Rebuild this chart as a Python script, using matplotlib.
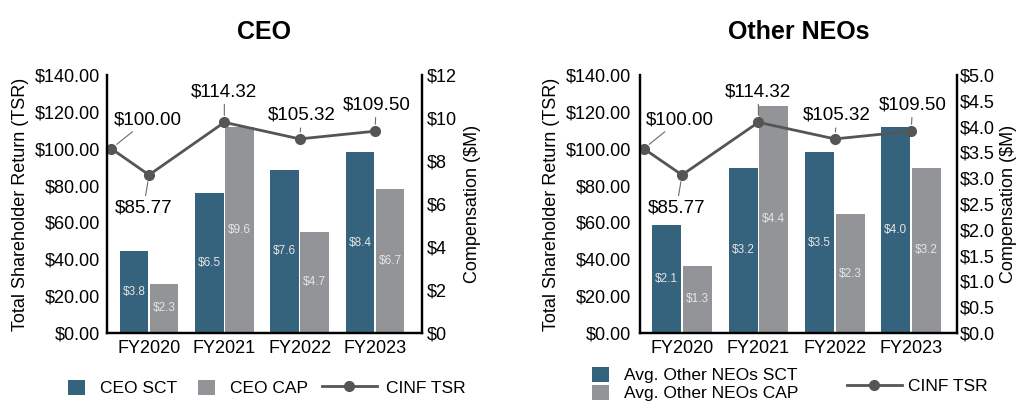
import numpy as np
import matplotlib
matplotlib.use("Agg")
from matplotlib import pyplot as plt
from matplotlib.patches import Patch
from matplotlib.lines import Line2D
from matplotlib.ticker import FuncFormatter, MultipleLocator

plt.rcParams['font.family'] = ['Liberation Sans', 'DejaVu Sans']

years = ["FY2020", "FY2021", "FY2022", "FY2023"]
# TSR starts from a $100 base before FY2020
tsr = [100.00, 85.77, 114.32, 105.32, 109.50]

ceo_sct = [3.8, 6.5, 7.6, 8.4]
ceo_cap = [2.3, 9.6, 4.7, 6.7]
neo_sct = [2.1, 3.2, 3.5, 4.0]
neo_cap = [1.3, 4.4, 2.3, 3.2]

SCT_COLOR = "#35627d"
CAP_COLOR = "#939497"
LINE_COLOR = "#555555"

W, H = 1023, 403
fig = plt.figure(figsize=(W / 100, H / 100), dpi=100)

# text offsets (points) for each TSR label, relative to its marker
label_offsets = [(26, 21), (-4, -24), (0, 22), (1.5, 17), (1, 19)]


def draw_panel(rect, xlim, title, sct, cap, comp_max, comp_step, comp_fmt,
               tsr_pad, comp_pad, comp_labelpad):
    ax = fig.add_axes(rect)
    ax2 = ax.twinx()
    x = np.arange(len(years))
    tsr_x = np.r_[-0.5, x]

    # compensation bars on the right-hand scale
    b1 = ax2.bar(x - 0.2, sct, width=0.38, color=SCT_COLOR)
    b2 = ax2.bar(x + 0.2, cap, width=0.38, color=CAP_COLOR)
    for bars, vals in ((b1, sct), (b2, cap)):
        ax2.bar_label(bars, labels=[f"${v:.1f}" for v in vals],
                      label_type="center", color="#e4e4e4", fontsize=8.5)
    ax2.set_ylim(0, comp_max)
    ax2.yaxis.set_major_locator(MultipleLocator(comp_step))
    ax2.yaxis.set_major_formatter(FuncFormatter(comp_fmt))
    ax2.set_ylabel("Compensation ($M)", fontsize=13, labelpad=comp_labelpad)
    ax2.tick_params(axis="y", length=0, labelsize=13, pad=comp_pad)

    # TSR line drawn above the bars
    ax.set_zorder(ax2.get_zorder() + 1)
    ax.patch.set_visible(False)
    ax.plot(tsr_x, tsr, color=LINE_COLOR, lw=2, marker="o", ms=7,
            clip_on=False)
    for xi, v, off in zip(tsr_x, tsr, label_offsets):
        ax.annotate(f"${v:,.2f}", xy=(xi, v), xytext=off,
                    textcoords="offset points", ha="center", va="center",
                    fontsize=13.5,
                    arrowprops=dict(arrowstyle="-", color="#6a6a6a", lw=0.8,
                                    shrinkA=1, shrinkB=5))
    ax.set_ylim(0, 140)
    ax.set_xlim(*xlim)
    ax.yaxis.set_major_locator(MultipleLocator(20))
    ax.yaxis.set_major_formatter(FuncFormatter(lambda v, p: f"${v:.2f}"))
    ax.set_ylabel("Total Shareholder Return (TSR)", fontsize=13, labelpad=4)
    ax.set_xticks(x)
    ax.set_xticklabels(years)
    ax.tick_params(axis="y", length=0, labelsize=13, pad=tsr_pad)
    ax.tick_params(axis="x", length=0, labelsize=13, pad=5)
    ax.set_title(title, fontsize=18, fontweight="bold", pad=26)

    for a in (ax, ax2):
        a.spines["top"].set_visible(False)
        for s in ("left", "right", "bottom"):
            a.spines[s].set_linewidth(1.6)
            a.spines[s].set_color("black")
    return ax


draw_panel([107 / W, 1 - 333 / H, 315 / W, 258 / H], (-0.558, 3.625), "CEO",
           ceo_sct, ceo_cap, 12, 2, lambda v, p: f"${v:.0f}",
           tsr_pad=5, comp_pad=3.5, comp_labelpad=5)
draw_panel([640 / W, 1 - 333 / H, 317 / W, 258 / H], (-0.55, 3.60), "Other NEOs",
           neo_sct, neo_cap, 5, 0.5, lambda v, p: f"${v:.1f}",
           tsr_pad=6.5, comp_pad=2, comp_labelpad=4)


def add_key(handle, label, x_px, y_px, handlelength, textpad):
    fig.legend(handles=[handle], labels=[label], loc="center left",
               bbox_to_anchor=(x_px / W, 1 - y_px / H), frameon=False,
               borderpad=0, borderaxespad=0, handlelength=handlelength,
               handleheight=1.0, handletextpad=textpad, fontsize=12.5)


sct_key = Patch(facecolor=SCT_COLOR)
cap_key = Patch(facecolor=CAP_COLOR)
tsr_key = Line2D([], [], color=LINE_COLOR, lw=2, marker="o", ms=7)

add_key(sct_key, "CEO SCT", 68, 388, 1.0, 0.86)
add_key(cap_key, "CEO CAP", 198, 388, 1.0, 0.86)
add_key(tsr_key, "CINF TSR", 322, 388, 3.16, 0.55)

add_key(sct_key, "Avg. Other NEOs SCT", 592, 375, 1.0, 0.86)
add_key(cap_key, "Avg. Other NEOs CAP", 592, 393, 1.0, 0.86)
add_key(tsr_key, "CINF TSR", 847, 386, 3.16, 0.35)

fig.savefig("out.png", dpi=100)
